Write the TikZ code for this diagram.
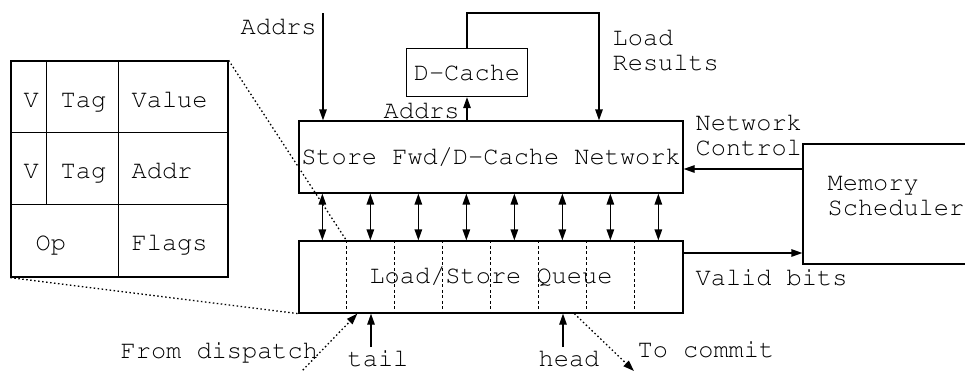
\documentclass[tikz,border=0pt]{standalone}
\usepackage[T1]{fontenc}
\usetikzlibrary{arrows.meta,calc}
\tikzset{
  box/.style={draw, inner sep=0pt},
  lbl/.style={anchor=base west, inner sep=0pt, align=left},
  arr/.style={-{Triangle[length=11pt,width=7.5pt]}},
  darr/.style={{Triangle[length=11pt,width=7.5pt]}-{Triangle[length=11pt,width=7.5pt]}},
  zoomline/.style={dash pattern=on 1.5pt off 2.5pt},
  divider/.style={dash pattern=on 3pt off 2.5pt},
}
\begin{document}
\begin{tikzpicture}[x=1pt,y=-1pt,line width=1.3pt,
    font=\fontencoding{T1}\fontfamily{pcr}\fontsize{25.3}{25}\selectfont]
\useasboundingbox (0,0) rectangle (965,370);
\clip (0,0) rectangle (965,370);

% 主要部件
\node[box, minimum width=384pt, minimum height=72pt] (store) at (491,157) {Store Fwd/D-Cache Network};
\node[box, minimum width=384pt, minimum height=72pt] (lsq) at (491,277) {Load/Store Queue};
\node[box, minimum width=121pt, minimum height=48pt] (dcache) at (467,72.5) {D-Cache};
\node[box, minimum width=200pt, minimum height=120pt] (mem) at (903,204) {};
\node[lbl] (memlbl) at (827,215) {Memory\\Scheduler};

% 队列表项的分隔线
\foreach \i in {1,...,7}
  \draw[divider] ($(lsq.north west)+(48*\i,0)$) -- ($(lsq.south west)+(48*\i,0)$);

% 双向连接
\foreach \i in {0,...,7}
  \draw[darr] ($(store.south west)+(24+48*\i,0)$) -- ($(lsq.north west)+(24+48*\i,0)$);

% 表项放大图
\node[box, minimum width=217pt, minimum height=216pt] (tab) at (119.5,169) {};
\draw ($(tab.north west)+(0,72)$) -- ($(tab.north east)+(0,72)$);
\draw ($(tab.north west)+(0,144)$) -- ($(tab.north east)+(0,144)$);
\draw ($(tab.north west)+(108,0)$) -- ($(tab.south west)+(108,0)$);
\draw ($(tab.north west)+(36,0)$) -- ($(tab.north west)+(36,144)$);
\node[lbl] (v1) at (23,107) {V};
\node[lbl] (tag1) at (60,107) {Tag};
\node[lbl] (value) at (131,107) {Value};
\node[lbl] (v2) at (23,178) {V};
\node[lbl] (tag2) at (60,178) {Tag};
\node[lbl] (addr) at (131,178) {Addr};
\node[lbl] (op) at (35,250) {Op};
\node[lbl] (flags) at (131,250) {Flags};
\draw[zoomline] (tab.north east) -- ($(lsq.north west)+(48,0)$);
\draw[zoomline] (tab.south west) -- (lsq.south west);

% 上方的连线
\coordinate (addrstop) at (323,13);
\node[lbl] (addrsin) at (240,34) {Addrs};
\draw[arr] (addrstop) -- (addrstop |- store.north);
\draw[arr] (store.north -| dcache) -- (dcache.south);
\node[lbl] (addrsout) at (383,118) {Addrs};
\coordinate (lrtop) at (599,13);
\draw[arr] (dcache.north) |- (lrtop) -- (lrtop |- store.north);
\node[lbl] (loadres) at (612,70) {Load\\Results};

% 右侧的连线
\coordinate (nc) at (0,169);
\coordinate (vb) at (0,253);
\draw[arr] (mem.west |- nc) -- (store.east |- nc);
\node[lbl] (netctl) at (695,155) {Network\\Control};
\draw[arr] (lsq.east |- vb) -- (mem.west |- vb);
\node[lbl] (validb) at (695,285) {Valid bits};

% 下方的指针
\coordinate (tailpt) at (371,347);
\coordinate (headpt) at (563,347);
\draw[arr] (tailpt) -- (tailpt |- lsq.south);
\draw[arr] (headpt) -- (headpt |- lsq.south);
\node[anchor=base, inner sep=0pt] (taillbl) at (378,366) {tail};
\node[anchor=base, inner sep=0pt] (headlbl) at (569,366) {head};
\coordinate (dispfrom) at (300,373);
\draw[zoomline, arr] (dispfrom) -- ($(lsq.south west)+(59,0)$);
\node[lbl] (displbl) at (120,358) {From dispatch};
\coordinate (committo) at (634,371);
\draw[zoomline, arr] ($(lsq.south west)+(276,0)$) -- (committo);
\node[lbl] (commitlbl) at (637,357) {To commit};
\end{tikzpicture}
\end{document}
